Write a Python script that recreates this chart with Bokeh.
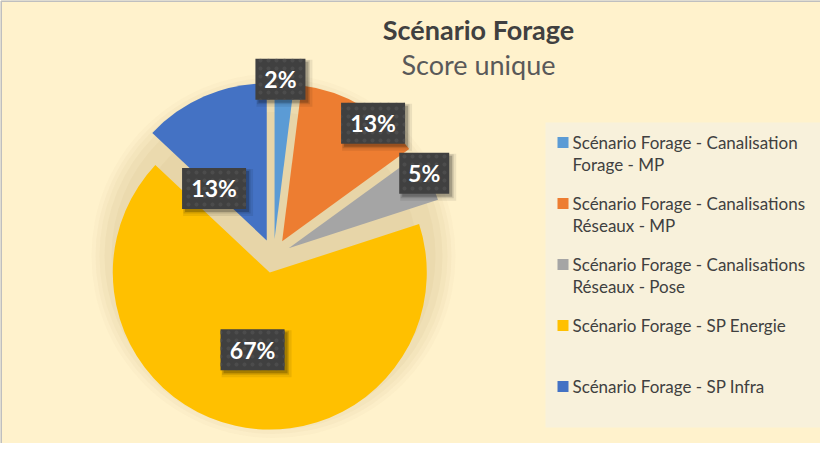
import math
import textwrap
from bokeh.plotting import figure
from bokeh.models import Range1d
from bokeh.core.properties import value
from bokeh.embed import file_html
from bokeh.resources import INLINE

# ---------------- data ----------------
title = "Scénario Forage"
subtitle = "Score unique"
categories = [
    "Scénario Forage - Canalisation Forage - MP",
    "Scénario Forage - Canalisations Réseaux - MP",
    "Scénario Forage - Canalisations Réseaux - Pose",
    "Scénario Forage - SP Energie",
    "Scénario Forage - SP Infra",
]
shares = [2, 13, 5, 67, 13]
colors = ["#5B9BD5", "#ED7D31", "#A5A5A5", "#FFC000", "#4472C4"]

# ---------------- layout (pixel-like units) ----------------
W, H = 820, 443
FONT = "Lato"
BG = "#FFF2CC"


def Y(img_y):
    return 459 - img_y


p = figure(width=W, height=H, output_backend="svg", toolbar_location=None,
           x_range=Range1d(8, 8 + W), y_range=Range1d(Y(8 + H), Y(8)),
           min_border=0, outline_line_color=None, background_fill_color=BG,
           border_fill_color=BG)
p.xaxis.visible = False
p.yaxis.visible = False
p.xgrid.visible = False
p.ygrid.visible = False

# frame lines (top / left)
p.segment(x0=[8.5, 8.5], y0=[Y(8.5), Y(8.5)], x1=[8.5, 8 + W], y1=[Y(8 + H), Y(8.5)],
          line_color="#BFBFBF", line_width=2)

# ---------------- pie ----------------
cx, cy = 281.0, Y(263.5)
R = 157.0
EXPLODE = 17.0
total = float(sum(shares))

# soft glow behind the pie
for k, al in [(8, 0.04), (4, 0.05), (0, 0.06), (-5, 0.07), (-12, 0.08), (-30, 0.08)]:
    p.circle(x=[cx], y=[cy], radius=R + EXPLODE + k, fill_color="#B9A26A",
             fill_alpha=al, line_color=None)

cum = 0.0
slice_info = []
for v, c in zip(shares, colors):
    t0 = 2 * math.pi * cum / total
    cum += v
    t1 = 2 * math.pi * cum / total
    mid = (t0 + t1) / 2
    sx = cx + EXPLODE * math.sin(mid)
    sy = cy + EXPLODE * math.cos(mid)
    p.wedge(x=[sx], y=[sy], radius=R, start_angle=math.pi / 2 - t0,
            end_angle=math.pi / 2 - t1, direction="clock",
            fill_color=c, line_color=None)
    slice_info.append((sx, sy, mid, v))

# ---------------- data labels ----------------
label_dist = [160, 149, 155, 79, 74]
label_turn_deg = [-1.5, 7, -2, 0, -22]
for (sx, sy, mid, v), d, turn in zip(slice_info, label_dist, label_turn_deg):
    a = mid + math.radians(turn)
    lx = sx + d * math.sin(a)
    ly = sy + d * math.cos(a)
    txt = f"{round(100 * v / total)}%"
    bw = 22 + 14 * len(txt)
    bh = 41
    for off, al, grow in [(4, 0.08, 6), (3, 0.12, 3), (3, 0.2, 0)]:
        p.rect(x=[lx + off], y=[ly - off], width=bw + grow, height=bh + grow,
               fill_color="#000000", fill_alpha=al, line_color=None)
    p.rect(x=[lx], y=[ly], width=bw, height=bh, fill_color="#404040",
           line_color=None, hatch_pattern="dot", hatch_color="#4C4C4C",
           hatch_scale=8, hatch_weight=1.5)
    p.text(x=[lx], y=[ly], text=[txt], text_color="#FFFFFF",
           text_font=value(FONT), text_font_style="bold", text_font_size="23px",
           text_align="center", text_baseline="middle")

# ---------------- titles ----------------
p.text(x=[486], y=[Y(37)], text=[title], text_color="#404040", text_font=value(FONT),
       text_font_style="bold", text_font_size="27px", text_align="center",
       text_baseline="middle")
p.text(x=[486], y=[Y(72)], text=[subtitle], text_color="#595959", text_font=value(FONT),
       text_font_size="27px", text_align="center", text_baseline="middle")

# ---------------- legend ----------------
lg_x0, lg_x1, lg_y0, lg_y1 = 553, 831, 130, 435
p.quad(left=[lg_x0], right=[lg_x1], top=[Y(lg_y0)], bottom=[Y(lg_y1)],
       fill_color="#F8F1DB", line_color=None)
row0, row_step, line_step = 150, 61, 22
for i, (name, c) in enumerate(zip(categories, colors)):
    ry = row0 + row_step * i
    p.rect(x=[570.5], y=[Y(ry)], width=11, height=11, fill_color=c, line_color=None)
    for j, line in enumerate(textwrap.wrap(name, 31)):
        p.text(x=[580], y=[Y(ry + line_step * j)], text=[line], text_color="#404040",
               text_font=value(FONT), text_font_size="17px", text_align="left",
               text_baseline="middle")

open("out.html", "w").write(file_html(p, INLINE))
